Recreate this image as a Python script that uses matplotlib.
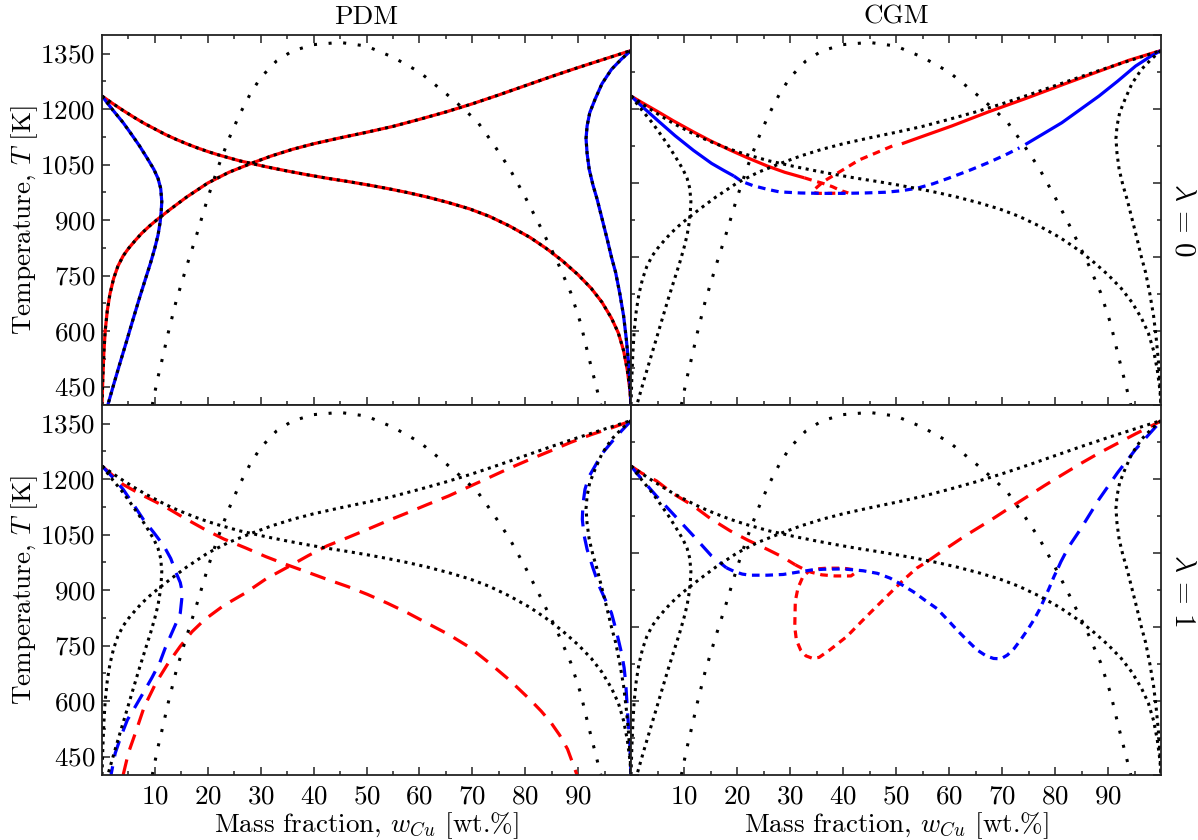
import matplotlib
matplotlib.use('Agg')
import matplotlib.pyplot as plt
from matplotlib.ticker import FixedLocator, MultipleLocator

plt.rcParams['font.family'] = 'serif'
plt.rcParams['font.serif'] = ['cmr10']
plt.rcParams['mathtext.fontset'] = 'cm'
plt.rcParams['axes.unicode_minus'] = False
plt.rcParams['axes.formatter.use_mathtext'] = True

# ---------------- reference (black dotted) curves ----------------
ref_liq_ag_x = [0, 2, 4, 6, 8, 10, 12, 14, 16, 18, 20, 22, 24, 26, 28.2, 31, 34.8, 38.5, 42.5, 46.5,
                50.2, 54, 57.8, 61.5, 65.5, 69.5, 73.2, 77, 80.9, 84, 87, 90, 92.5, 94.5, 96.3, 97.6,
                98.6, 99.3, 99.8, 100]
ref_liq_ag_T = [1235, 1215, 1196, 1178, 1161, 1146, 1131, 1118, 1106, 1095, 1085, 1076, 1068, 1060, 1053,
                1044, 1033, 1023, 1013, 1004, 995, 985, 974, 962, 947, 930, 910, 884, 853, 823, 790, 752,
                715, 678, 635, 595, 547, 495, 440, 400]

ref_liq_cu_x = [0, 0.15, 0.35, 0.6, 1.0, 1.5, 2.2, 3, 4, 5, 6.3, 7.5, 9, 10.5, 13, 16, 20, 24, 28.2, 32,
                36, 40, 45, 50, 55, 60, 65, 70, 75, 80, 85, 90, 95, 100]
ref_liq_cu_T = [400, 470, 540, 600, 655, 700, 742, 775, 803, 823, 845, 864, 884, 902, 930, 962, 1000,
                1029, 1053, 1073, 1091, 1106, 1122, 1137, 1153, 1172, 1192, 1214, 1238, 1263, 1288, 1312,
                1335, 1358]

ref_gap_x = [9.5, 10.5, 11.5, 12.5, 14, 16, 18, 20, 22, 24, 26, 28, 30, 33, 36, 40, 45, 50, 55, 60, 65,
             68, 71, 74, 77, 80, 83, 86, 88.6, 90.5, 92, 93.2, 94.3]
ref_gap_T = [400, 470, 531, 594, 680, 775, 865, 960, 1045, 1120, 1185, 1240, 1285, 1330, 1357, 1374,
             1380, 1370, 1340, 1300, 1242, 1205, 1165, 1105, 1040, 962, 878, 790, 704, 620, 530, 463, 400]

ref_sol_ag_x = [0, 2, 4, 5.5, 7.1, 8.5, 9.8, 10.6, 11.1, 11.3, 11.2, 11.0, 10.6, 10.0, 9.2, 8.2, 7.1,
                5.9, 4.7, 3.5, 2.3, 1.1]
ref_sol_ag_T = [1235, 1198, 1163, 1133, 1100, 1068, 1037, 1012, 985, 950, 925, 895, 860, 825, 785, 740,
                690, 633, 575, 518, 460, 400]

ref_sol_cu_x = [100, 98.2, 96.3, 94.5, 93.2, 92.2, 91.7, 91.5, 91.7, 92.1, 92.8, 93.6, 94.5, 95.5, 96.3,
                97.1, 97.9, 98.6, 99.1, 99.5, 99.8, 100]
ref_sol_cu_T = [1358, 1335, 1307, 1268, 1226, 1190, 1154, 1120, 1080, 1037, 995, 956, 905, 848, 800, 758,
                700, 641, 580, 520, 460, 400]

# ---------------- CGM, lambda = 0 ----------------
cgm0_red_a_x = [0, 2, 4.8, 8, 11.8, 15, 18.7, 22, 25.7, 29, 32.7]
cgm0_red_a_T = [1235, 1218, 1195, 1168, 1138, 1114, 1089, 1068, 1046, 1029, 1014]
cgm0_red_a2_x = [32.7, 34.5, 36.2, 38, 39.5, 41]
cgm0_red_a2_T = [1014, 1006, 999, 990, 980, 973]
cgm0_red_b2_x = [49.3, 46, 43, 40.5, 38.4, 37, 36, 35.2, 34.6, 34.4, 35.5, 37.5, 40]
cgm0_red_b2_T = [1100, 1080, 1062, 1040, 1022, 1010, 1000, 990, 982, 974, 972, 972, 973]
cgm0_red_b_x = [51.1, 55, 60.5, 67.4, 74.4, 81.3, 88.3, 94, 100]
cgm0_red_b_T = [1106, 1126, 1154, 1192, 1228, 1265, 1302, 1332, 1358]

cgm0_blue_a_x = [0, 2, 4.8, 8.3, 11.8, 15.2, 17.5, 19.4]
cgm0_blue_a_T = [1235, 1208, 1172, 1128, 1088, 1053, 1034, 1019]
cgm0_blue_m_x = [19.4, 20.8, 23, 25.7, 28, 32, 36, 40, 44, 48, 51, 54, 57, 60.5, 64, 67.4, 70.5, 73.3]
cgm0_blue_m_T = [1019, 1005, 993, 983, 976, 973, 972, 972, 973, 975, 979, 986, 998, 1016, 1035, 1055,
                 1075, 1095]
cgm0_blue_b_x = [74.4, 77.8, 81.3, 84.8, 88.3, 91.8, 95.2, 98, 100]
cgm0_blue_b_T = [1104, 1133, 1163, 1199, 1235, 1275, 1316, 1342, 1358]

# ---------------- PDM, lambda = 1 ----------------
pdm1_red_a_x = [0, 2, 4, 7.8, 11.7, 15.5, 19.4, 23, 27.1, 31, 34.8, 38.5, 42.5, 46.5, 50.2, 54, 57.8,
                61.5, 65.5, 69.5, 73.2, 77, 80.9, 83, 84.8, 86.5, 88, 89.8]
pdm1_red_a_T = [1235, 1210, 1185, 1155, 1127, 1095, 1064, 1038, 1014, 990, 969, 950, 929, 909, 888, 864,
                838, 810, 780, 745, 703, 657, 604, 573, 543, 508, 470, 400]
pdm1_red_b_x = [4, 5, 6.3, 8, 10.2, 12.5, 14.8, 17, 19.4, 23, 27.1, 31, 35.5, 39, 42.5, 46.5, 50.2, 54,
                57.8, 61.5, 65.5, 69.5, 73.2, 77, 80.9, 84.8, 88.6, 92.5, 96.3, 100]
pdm1_red_b_T = [400, 460, 513, 585, 649, 702, 748, 787, 820, 858, 892, 930, 965, 993, 1019, 1042, 1064,
                1087, 1109, 1131, 1154, 1180, 1204, 1229, 1253, 1276, 1299, 1320, 1338, 1357]
pdm1_blue_a_x = [0, 2, 4, 6, 7.8, 9.8, 11.7, 13, 14, 14.8, 15.2, 15, 14.8, 14, 13.2, 12, 10.9, 9.4, 7.8,
                 6.3, 4.8, 3.6, 2.5, 1.7]
pdm1_blue_a_T = [1235, 1205, 1172, 1130, 1091, 1055, 1019, 985, 947, 920, 892, 865, 838, 810, 784, 745,
                 703, 662, 622, 585, 549, 505, 459, 400]
pdm1_blue_b_x = [100, 98.2, 96.3, 94.5, 93.2, 92, 91.3, 90.9, 90.8, 91.1, 91.7, 92.8, 94, 95.2, 96.3,
                 97.3, 98.2, 98.7, 99, 99.4, 99.8, 100]
pdm1_blue_b_T = [1357, 1330, 1299, 1268, 1235, 1205, 1172, 1130, 1091, 1050, 1010, 960, 910, 872, 838,
                 785, 730, 690, 649, 558, 480, 400]

# ---------------- CGM, lambda = 1 ----------------
cgm1_red_a_x = [0, 2, 4.8, 8, 11.8, 15, 18.7, 22, 25.7, 28.5, 31]
cgm1_red_a_T = [1235, 1216, 1195, 1160, 1127, 1093, 1060, 1035, 1010, 990, 968]
cgm1_red_m_x = [31, 32.5, 34, 36, 38.5, 41.5, 42.2, 42, 40, 37, 35, 33.5, 32.4, 31.5, 31, 30.9, 31.2, 32,
                33, 34.3, 35.5, 37.5, 40.7, 44.4, 48.2, 51.4, 53.9, 55.8]
cgm1_red_m_T = [968, 957, 948, 941, 938, 938, 945, 955, 959, 959, 957, 950, 935, 905, 870, 800, 765, 738,
                722, 715, 718, 738, 774, 828, 882, 927, 959, 976]
cgm1_red_b_x = [55.8, 58, 60.5, 63, 65.5, 68, 71, 74.4, 78, 81.3, 85, 88.3, 92, 95.2, 98, 100]
cgm1_red_b_T = [976, 998, 1022, 1046, 1068, 1090, 1118, 1149, 1182, 1211, 1243, 1270, 1298, 1322, 1342,
                1357]

cgm1_blue_a_x = [0, 2, 4.8, 8.3, 11.8, 15.2, 18]
cgm1_blue_a_T = [1235, 1200, 1154, 1100, 1046, 992, 960]
cgm1_blue_m_x = [18, 19.5, 21, 22.5, 25.7, 28.7, 31.8, 34, 36.2, 40, 43.8, 46.5, 48.9, 51, 53.3, 55.5,
                 57.7, 59.7, 61.5, 63.5, 65.3, 67, 68.4, 69.8, 71, 72.3, 73.5, 74.8, 76, 77, 77.9, 78.9,
                 79.8, 80.6]
cgm1_blue_m_T = [960, 950, 943, 940, 940, 942, 949, 954, 956, 957, 952, 945, 932, 915, 895, 872, 850, 820,
                 792, 763, 738, 722, 715, 714, 724, 742, 765, 792, 819, 845, 873, 905, 936, 960]
cgm1_blue_b_x = [80.6, 81.1, 82.6, 84.8, 88.3, 91.8, 95.2, 98, 100]
cgm1_blue_b_T = [960, 976, 1017, 1064, 1145, 1217, 1280, 1325, 1357]

col_titles = ['PDM', 'CGM']
row_labels = [r'$\lambda\,=\,0$', r'$\lambda\,=\,1$']
ytick_vals = [450, 600, 750, 900, 1050, 1200, 1350]
xtick_vals = [10, 20, 30, 40, 50, 60, 70, 80, 90]
xminor_vals = [5, 15, 25, 35, 45, 55, 65, 75, 85, 95]

RED = '#ff0000'
BLUE = '#0000ff'
LW = 2.3
SOLID = dict(lw=LW, solid_capstyle='butt')
LONG = dict(lw=LW, dashes=(5.0, 3.2))
SHORT = dict(lw=LW, dashes=(2.4, 1.8))
DOT = dict(color='black', lw=2.2, dashes=(1.0, 1.5))
DOT_SPARSE = dict(color='black', lw=2.2, dashes=(1.0, 3.8))

W, H = 1198, 840
fig = plt.figure(figsize=(W / 100, H / 100), dpi=100)
x0, xm, x1 = 102 / W, 631 / W, 1161 / W
ytop, ymid, ybot = 1 - 35 / H, 1 - 405 / H, 1 - 775 / H
axes = [[fig.add_axes([x0, ymid, xm - x0, ytop - ymid]), fig.add_axes([xm, ymid, x1 - xm, ytop - ymid])],
        [fig.add_axes([x0, ybot, xm - x0, ymid - ybot]), fig.add_axes([xm, ybot, x1 - xm, ymid - ybot])]]


def draw_ref(ax):
    ax.plot(ref_liq_ag_x, ref_liq_ag_T, **DOT)
    ax.plot(ref_liq_cu_x, ref_liq_cu_T, **DOT)
    ax.plot(ref_sol_ag_x, ref_sol_ag_T, **DOT)
    ax.plot(ref_sol_cu_x, ref_sol_cu_T, **DOT)
    ax.plot(ref_gap_x, ref_gap_T, **DOT_SPARSE)


# top-left: PDM, lambda=0 (coincides with the reference)
ax = axes[0][0]
ax.plot(ref_liq_ag_x, ref_liq_ag_T, color=RED, **SOLID)
ax.plot(ref_liq_cu_x, ref_liq_cu_T, color=RED, **SOLID)
ax.plot(ref_sol_ag_x, ref_sol_ag_T, color=BLUE, **SOLID)
ax.plot(ref_sol_cu_x, ref_sol_cu_T, color=BLUE, **SOLID)
draw_ref(ax)

# top-right: CGM, lambda=0
ax = axes[0][1]
ax.plot(cgm0_red_a_x, cgm0_red_a_T, color=RED, **SOLID)
ax.plot(cgm0_red_a2_x, cgm0_red_a2_T, color=RED, **SHORT)
ax.plot(cgm0_red_b2_x, cgm0_red_b2_T, color=RED, **SHORT)
ax.plot(cgm0_red_b_x, cgm0_red_b_T, color=RED, **SOLID)
ax.plot(cgm0_blue_a_x, cgm0_blue_a_T, color=BLUE, **SOLID)
ax.plot(cgm0_blue_m_x, cgm0_blue_m_T, color=BLUE, **SHORT)
ax.plot(cgm0_blue_b_x, cgm0_blue_b_T, color=BLUE, **SOLID)
draw_ref(ax)

# bottom-left: PDM, lambda=1
ax = axes[1][0]
ax.plot(pdm1_red_a_x, pdm1_red_a_T, color=RED, **LONG)
ax.plot(pdm1_red_b_x, pdm1_red_b_T, color=RED, **LONG)
ax.plot(pdm1_blue_a_x, pdm1_blue_a_T, color=BLUE, **LONG)
ax.plot(pdm1_blue_b_x, pdm1_blue_b_T, color=BLUE, **LONG)
draw_ref(ax)

# bottom-right: CGM, lambda=1
ax = axes[1][1]
ax.plot(cgm1_red_a_x, cgm1_red_a_T, color=RED, **LONG)
ax.plot(cgm1_red_m_x, cgm1_red_m_T, color=RED, **SHORT)
ax.plot(cgm1_red_b_x, cgm1_red_b_T, color=RED, **LONG)
ax.plot(cgm1_blue_a_x, cgm1_blue_a_T, color=BLUE, **LONG)
ax.plot(cgm1_blue_m_x, cgm1_blue_m_T, color=BLUE, **SHORT)
ax.plot(cgm1_blue_b_x, cgm1_blue_b_T, color=BLUE, **LONG)
draw_ref(ax)

FS = 19.5
for r in range(2):
    for c in range(2):
        ax = axes[r][c]
        ax.set_xlim(0, 100)
        ax.set_ylim(400, 1400)
        for s in ax.spines.values():
            s.set_linewidth(1.3)
            s.set_color('#222222')
        ax.xaxis.set_major_locator(FixedLocator(xtick_vals))
        ax.xaxis.set_minor_locator(FixedLocator(xminor_vals))
        if c == 0:
            ax.yaxis.set_major_locator(FixedLocator(ytick_vals))
            ax.yaxis.set_minor_locator(MultipleLocator(75))
        else:
            ax.yaxis.set_major_locator(MultipleLocator(200))
            ax.yaxis.set_minor_locator(MultipleLocator(100))
        ax.tick_params(which='both', direction='in', top=(r == 0), bottom=True,
                       left=True, right=(c == 1), labelbottom=(r == 1), labelleft=(c == 0),
                       labeltop=False, labelright=False, labelsize=FS, color='#222222')
        ax.tick_params(which='major', length=5.5, width=1.1)
        ax.tick_params(which='minor', length=3, width=1.1)
        ax.tick_params(axis='x', pad=7)
        ax.tick_params(axis='y', pad=5)
        if r == 0:
            ax.set_title(col_titles[c], fontsize=FS, pad=8)
        if r == 1:
            ax.set_xlabel(r'Mass fraction, $w_{Cu}$ [wt.%]', fontsize=FS, labelpad=1)
        if c == 0:
            ax.set_ylabel(r'Temperature, $T$ [K]', fontsize=FS, labelpad=0)
        if c == 1:
            ax.text(1.04, 0.5, row_labels[r], transform=ax.transAxes, rotation=270,
                    ha='center', va='center', fontsize=FS + 1.5)

fig.savefig('out.png', dpi=100)
